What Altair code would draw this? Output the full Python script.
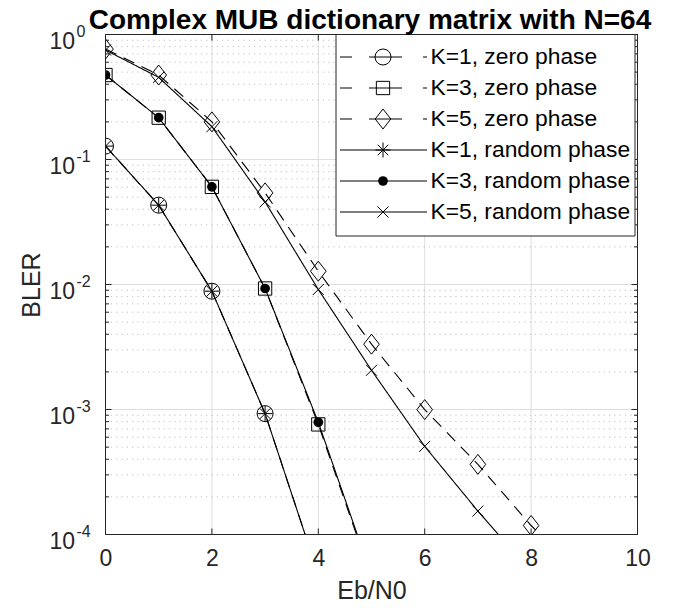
import altair as alt
import pandas as pd

# ---------------- data ----------------
ebn0 = [0, 1, 2, 3, 4, 5, 6, 7, 8, 9]
k1_zero = [0.128, 0.0431, 0.00884, 0.000927, 4.8e-5]
k3_zero = [0.474, 0.216, 0.0604, 0.00929, 0.00076, 4.5e-5]
k5_zero = [0.765, 0.474, 0.200, 0.0541, 0.01277, 0.00333, 0.000998, 0.000364, 0.000118, 4.5e-5]
k1_rand = [0.128, 0.0431, 0.00884, 0.000927, 4.8e-5]
k3_rand = [0.474, 0.216, 0.0604, 0.00929, 0.00079, 4.7e-5]
k5_rand = [0.751, 0.454, 0.183, 0.0458, 0.00912, 0.00206, 0.000507, 0.000154, 5.0e-5]

names = ["K=1, zero phase", "K=3, zero phase", "K=5, zero phase",
         "K=1, random phase", "K=3, random phase", "K=5, random phase"]
series_values = [k1_zero, k3_zero, k5_zero, k1_rand, k3_rand, k5_rand]

x_ticks = [0, 2, 4, 6, 8, 10]
y_decades = [1, 0.1, 0.01, 0.001, 0.0001]
y_base = ["10", "10", "10", "10", "10"]
y_exponents = ["0", "-1", "-2", "-3", "-4"]
y_minor = [m * d for d in [0.1, 0.01, 0.001, 0.0001] for m in range(2, 10)]

title_text = "Complex MUB dictionary matrix with N=64"

# ---------------- styling ----------------
W, H = 532, 500
AX = "#262626"
FONT = "Liberation Sans"
MAJOR_GRID = "#dedede"
MINOR_GRID = "#c4c4c4"

DIAMOND = "M0,-1.15L0.9,0L0,1.15L-0.9,0Z"
ASTERISK = "M0,-1L0,1M-1,0L1,0M-0.7,-0.7L0.7,0.7M-0.7,0.7L0.7,-0.7"
XMARK = "M-1,-1L1,1M-1,1L1,-1"

DASH = [12, 8]
LEG_DASH = [12, 17, 33, 21]
SOLID = [1, 0]
styles = [
    dict(dash=DASH, ldash=LEG_DASH, shape="circle", size=256, filled=False),
    dict(dash=DASH, ldash=LEG_DASH, shape="square", size=177, filled=False),
    dict(dash=DASH, ldash=LEG_DASH, shape=DIAMOND, size=302, filled=False),
    dict(dash=SOLID, ldash=SOLID, shape=ASTERISK, size=225, filled=False),
    dict(dash=SOLID, ldash=SOLID, shape="circle", size=94, filled=True),
    dict(dash=SOLID, ldash=SOLID, shape=XMARK, size=121, filled=False),
]

rows = []
for name, vals in zip(names, series_values):
    for x, v in zip(ebn0, vals):
        rows.append({"ebn0": x, "bler": v, "series": name})
df = pd.DataFrame(rows)

xscale = alt.Scale(domain=[0, 10], nice=False, zero=False)
yscale = alt.Scale(type="log", domain=[1e-4, 1], nice=False)

x_axis = alt.Axis(values=x_ticks, ticks=False, tickSize=0, domain=False, grid=False,
                  labelFontSize=23, labelFont=FONT, labelColor=AX, labelPadding=13,
                  labelFlush=False, title="Eb/N0", titleFont=FONT, titleFontSize=25,
                  titleFontWeight="normal", titleColor=AX, titleY=56,
                  titleBaseline="middle", titleAlign="center")
y_axis = alt.Axis(labels=False, ticks=False, domain=False, grid=False,
                  title="BLER", titleFont=FONT, titleFontSize=25, titleFontWeight="normal",
                  titleColor=AX, titleAngle=270, titleX=-74, titleY=250,
                  titleAlign="center", titleBaseline="middle")


def X(field):
    return alt.X(field, scale=xscale, axis=x_axis)


def Y(field):
    return alt.Y(field, scale=yscale, axis=y_axis)


layers = []

# grid
xg = pd.DataFrame({"v": x_ticks})
yg = pd.DataFrame({"v": y_decades})
ym = pd.DataFrame({"v": y_minor})
layers.append(alt.Chart(xg).mark_rule(color=MAJOR_GRID, strokeWidth=1).encode(
    x=X("v:Q"), y=alt.value(0), y2=alt.value(H)))
layers.append(alt.Chart(ym).mark_rule(color=MINOR_GRID, strokeWidth=1, strokeDash=[1.3, 4]).encode(
    y=Y("v:Q"), x=alt.value(0), x2=alt.value(W)))
layers.append(alt.Chart(yg).mark_rule(color=MAJOR_GRID, strokeWidth=1).encode(
    y=Y("v:Q"), x=alt.value(0), x2=alt.value(W)))

# data lines and markers
for name, st in zip(names, styles):
    base = alt.Chart(df).transform_filter(alt.datum.series == name)
    layers.append(base.mark_line(clip=True, color="black", strokeWidth=1.1,
                                 strokeDash=st["dash"]).encode(
        x=X("ebn0:Q"), y=Y("bler:Q")))
for name, st in zip(names, styles):
    base = alt.Chart(df).transform_filter(alt.datum.series == name)
    layers.append(base.mark_point(clip=True, shape=st["shape"], size=st["size"],
                                  filled=st["filled"], color="black", strokeWidth=1,
                                  opacity=1).encode(
        x=X("ebn0:Q"), y=Y("bler:Q")))

# frame and inside ticks
one = pd.DataFrame({"a": [0]})
layers.append(alt.Chart(one).mark_rect(fillOpacity=0, stroke=AX, strokeWidth=1).encode(
    x=alt.value(0), x2=alt.value(W), y=alt.value(0), y2=alt.value(H)))
for y0, y1 in [(H, H - 6), (0, 6)]:
    layers.append(alt.Chart(xg).mark_rule(color=AX, strokeWidth=1).encode(
        x=X("v:Q"), y=alt.value(y0), y2=alt.value(y1)))
for x0, x1 in [(0, 6), (W, W - 6)]:
    layers.append(alt.Chart(yg).mark_rule(color=AX, strokeWidth=1).encode(
        y=Y("v:Q"), x=alt.value(x0), x2=alt.value(x1)))
for x0, x1 in [(0, 3.5), (W, W - 3.5)]:
    layers.append(alt.Chart(ym).mark_rule(color=AX, strokeWidth=1).encode(
        y=Y("v:Q"), x=alt.value(x0), x2=alt.value(x1)))

# y tick labels with superscript exponents
ylab = pd.DataFrame({"v": y_decades, "base": y_base, "exp": y_exponents})
layers.append(alt.Chart(ylab).mark_text(align="right", baseline="alphabetic", dy=14,
                                        fontSize=23, font=FONT, color=AX).encode(
    y=Y("v:Q"), x=alt.value(-30.5), text="base:N"))
layers.append(alt.Chart(ylab).mark_text(align="left", baseline="alphabetic", dy=2,
                                        fontSize=16, font=FONT, color=AX).encode(
    y=Y("v:Q"), x=alt.value(-29), text="exp:N"))

# legend (drawn manually to show line + marker samples)
LX0, LX1, LXM, LXT = 230.5, 529.5, 277.5, 325
LY0, LY1, LROW0, LSTEP = 0, 201.5, 22.5, 31
layers.append(alt.Chart(one).mark_rect(fill="white", stroke=AX, strokeWidth=1).encode(
    x=alt.value(LX0), x2=alt.value(LX1), y=alt.value(LY0), y2=alt.value(LY1)))
for i, (name, st) in enumerate(zip(names, styles)):
    ry = LROW0 + i * LSTEP
    ldf = pd.DataFrame({"series": [name]})
    layers.append(alt.Chart(ldf).mark_rule(color="black", strokeWidth=1.1,
                                           strokeDash=st["ldash"]).encode(
        x=alt.value(234.5), x2=alt.value(321.5), y=alt.value(ry)))
    layers.append(alt.Chart(ldf).mark_point(shape=st["shape"], size=st["size"],
                                            filled=st["filled"], color="black",
                                            strokeWidth=1, opacity=1).encode(
        x=alt.value(LXM), y=alt.value(ry)))
    layers.append(alt.Chart(ldf).mark_text(align="left", baseline="middle", fontSize=22.8,
                                           font=FONT, color="black").encode(
        x=alt.value(LXT), y=alt.value(ry), text="series:N"))

# title
tdf = pd.DataFrame({"t": [title_text]})
layers.append(alt.Chart(tdf).mark_text(align="center", baseline="alphabetic", fontSize=28,
                                       fontWeight="bold", font=FONT, color="black").encode(
    x=alt.value(264.5), y=alt.value(-5.5), text="t:N"))

chart = alt.layer(*layers).properties(
    width=W, height=H,
    autosize=alt.AutoSizeParams(type="none"),
    padding={"left": 97.5, "top": 26.5, "right": 27, "bottom": 70},
).configure_view(strokeWidth=0)

chart.save("out.html", embed_options={"renderer": "svg", "actions": False})
